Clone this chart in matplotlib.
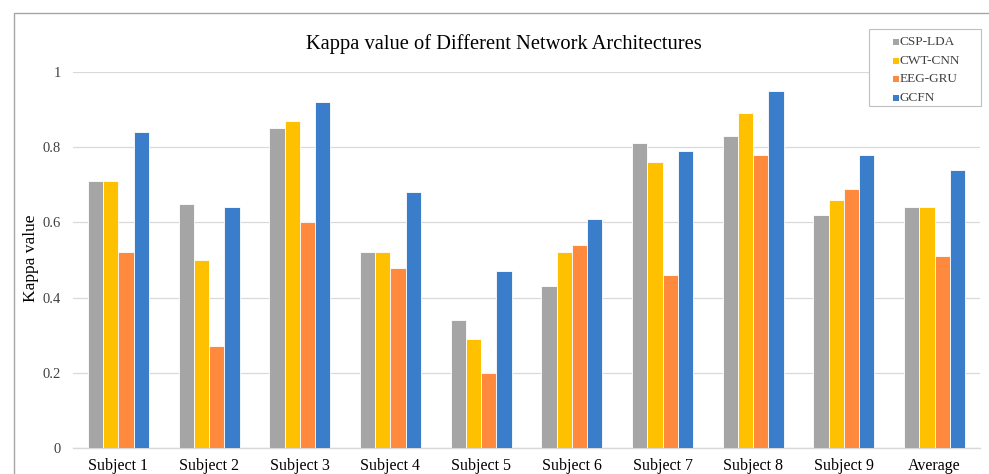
import numpy as np
from matplotlib import pyplot as plt
from matplotlib.patches import Rectangle

# ---------------------------------------------------------------------------
categories = ["Subject 1", "Subject 2", "Subject 3", "Subject 4", "Subject 5",
              "Subject 6", "Subject 7", "Subject 8", "Subject 9", "Average"]
csp_lda = [0.71, 0.65, 0.85, 0.52, 0.34, 0.43, 0.81, 0.83, 0.62, 0.64]
cwt_cnn = [0.71, 0.50, 0.87, 0.52, 0.29, 0.52, 0.76, 0.89, 0.66, 0.64]
eeg_gru = [0.52, 0.27, 0.60, 0.48, 0.20, 0.54, 0.46, 0.78, 0.69, 0.51]
gcfn    = [0.84, 0.64, 0.92, 0.68, 0.47, 0.61, 0.79, 0.95, 0.78, 0.74]
series_names = ["CSP-LDA", "CWT-CNN", "EEG-GRU", "GCFN"]
# ---------------------------------------------------------------------------

plt.rcParams['font.family'] = ['Liberation Serif', 'DejaVu Serif']

colors = ['#A5A5A5', '#FFC000', '#FF8A3D', '#3A7DCB']
series = [csp_lda, cwt_cnn, eeg_gru, gcfn]

W, H = 989, 474
fig = plt.figure(figsize=(W/100, H/100), dpi=100)
ax  = fig.add_axes([73/W, 26/H, 907/W, 376/H])

x = np.arange(len(categories))
w = 0.168
for i, (vals, name) in enumerate(zip(series, series_names)):
	ax.bar(x + (i - 1.5)*w, vals, width=w, color=colors[i], label=name,
	       edgecolor='white', linewidth=0.6, zorder=3)

ax.set_xlim(-0.5, len(categories) - 0.5)
ax.set_ylim(0, 1)
ax.set_yticks([0, 0.2, 0.4, 0.6, 0.8, 1])
ax.set_yticklabels(["0", "0.2", "0.4", "0.6", "0.8", "1"])
ax.set_xticks(x)
ax.set_xticklabels(categories, fontsize=11.5)
ax.tick_params(axis='y', labelsize=10.5, length=0, pad=8.5)
ax.tick_params(axis='x', length=0, pad=7)
for lbl in ax.get_yticklabels():
	lbl.set_color('#404040')

ax.grid(axis='y', color='#d9d9d9', linewidth=0.9, zorder=0)
for s in ['top', 'right', 'left']:
	ax.spines[s].set_visible(False)
ax.spines['bottom'].set_color('#d9d9d9')
ax.spines['bottom'].set_linewidth(1.0)

fig.text(31/W, 1 - 258/H, "Kappa value", rotation=90,
         ha='center', va='center', fontsize=12.5)

fig.text(504/W, 1 - 44/H, "Kappa value of Different Network Architectures",
         ha='center', va='center', fontsize=14.8)

# legend, drawn by hand to get the wide padded box
fig.patches.append(Rectangle((869/W, 1 - 106/H), 112/W, 77/H,
                             transform=fig.transFigure, fill=True,
                             facecolor='white', edgecolor='#bfbfbf',
                             linewidth=0.8, zorder=5))
for i, name in enumerate(series_names):
	yc = 42 + i*18.7
	fig.patches.append(Rectangle((893/W, 1 - (yc + 3)/H), 6/W, 6/H,
	                             transform=fig.transFigure,
	                             facecolor=colors[i], edgecolor='none', zorder=6))
	fig.text(900/W, 1 - yc/H, name, ha='left', va='center',
	         fontsize=9.5, zorder=6, color='#404040')

# outer frame
fig.patches.append(Rectangle((14/W, -0.05), 1.0, 1 - 13/H + 0.05,
                             transform=fig.transFigure, fill=False,
                             edgecolor='#a6a6a6', linewidth=1.0))

plt.savefig("out.png", dpi=100)
